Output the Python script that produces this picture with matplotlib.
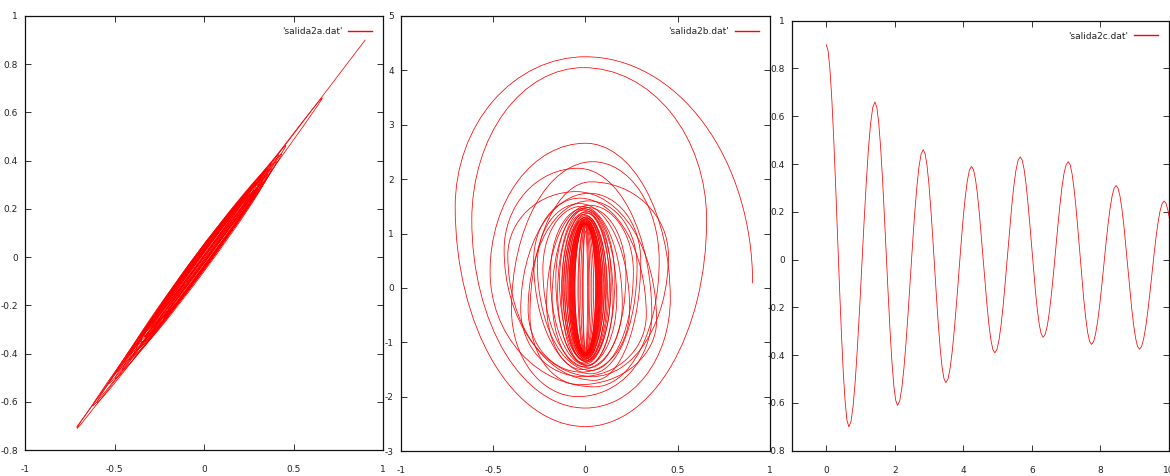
import matplotlib
matplotlib.use("Agg")
import matplotlib.pyplot as plt
from matplotlib.patches import Ellipse, Arc
from matplotlib.lines import Line2D

plt.rcParams['font.family'] = ['Liberation Sans Narrow', 'DejaVu Sans']

# ---------------- data ----------------
legend_labels = ["'salida2a.dat'", "'salida2b.dat'", "'salida2c.dat'"]

# Panel 1: start swing and thin loops along the diagonal
p1_start_x = [0.90, 0.10, -0.71]
p1_start_y = [0.90, 0.12, -0.703]
# (low tip, high tip, loop thickness, perpendicular offset)
p1_loops = [
    (-0.71, 0.66, 0.030, 0.000),
    (-0.62, 0.46, 0.036, 0.004),
    (-0.60, 0.43, 0.044, -0.004),
    (-0.53, 0.42, 0.040, 0.006),
    (-0.50, 0.40, 0.050, -0.006),
    (-0.48, 0.38, 0.046, 0.008),
    (-0.46, 0.37, 0.056, -0.008),
    (-0.44, 0.36, 0.050, 0.006),
    (-0.42, 0.35, 0.060, -0.006),
    (-0.41, 0.34, 0.055, 0.010),
    (-0.40, 0.34, 0.064, -0.010),
    (-0.39, 0.33, 0.040, 0.012),
    (-0.38, 0.32, 0.066, -0.004),
    (-0.37, 0.32, 0.030, -0.012),
    (-0.36, 0.31, 0.068, 0.004),
    (-0.35, 0.30, 0.020, 0.014),
    (-0.35, 0.30, 0.070, 0.000),
    (-0.34, 0.29, 0.025, -0.014),
    (-0.33, 0.29, 0.072, 0.002),
    (-0.33, 0.28, 0.015, 0.000),
    (-0.32, 0.28, 0.050, -0.010),
    (-0.31, 0.27, 0.045, 0.012),
    (-0.30, 0.27, 0.035, -0.016),
    (-0.30, 0.26, 0.030, 0.018),
    (-0.29, 0.26, 0.060, 0.000),
    (-0.28, 0.25, 0.010, 0.008),
    (-0.27, 0.24, 0.012, -0.008),
    (-0.25, 0.22, 0.008, 0.020),
    (-0.24, 0.21, 0.008, -0.020),
]

# Panel 2: trajectory extreme points, each loop = right, top, left, bottom
p2_loops = [
    # Rx,   Ry,    Tx,    Ty,   Lx,     Ly,    Bx,    By
    (0.906, 0.085, 0.00, 4.25, -0.705, 1.49, 0.00, -2.55),
    (0.657, 1.25, -0.01, 4.05, -0.615, 1.25, 0.00, -2.21),
    (0.46, -0.20, 0.00, 2.66, -0.516, 0.30, 0.05, -1.82),
    (0.40, 0.50, 0.04, 2.32, -0.40, -0.40, -0.04, -2.00),
    (0.36, -0.50, -0.04, 2.20, -0.44, 0.70, 0.04, -1.63),
    (0.45, 0.60, 0.03, 1.95, -0.30, -0.50, -0.03, -1.78),
    (0.386, -0.60, -0.05, 1.77, -0.42, 0.60, 0.05, -1.70),
    (0.30, 0.50, 0.02, 1.74, -0.35, -0.40, -0.02, -1.63),
    (0.33, -0.50, -0.03, 1.65, -0.28, 0.50, 0.03, -1.58),
    (0.28, 0.40, 0.02, 1.60, -0.31, -0.40, -0.02, -1.55),
    (0.24, -0.40, -0.03, 1.55, -0.26, 0.45, 0.03, -1.52),
    (0.26, 0.30, 0.02, 1.52, -0.21, -0.30, -0.02, -1.50),
    (0.20, -0.30, -0.02, 1.50, -0.23, 0.35, 0.02, -1.47),
    (0.22, 0.25, 0.01, 1.48, -0.18, -0.20, -0.01, -1.45),
    (0.17, -0.20, -0.01, 1.46, -0.19, 0.25, 0.01, -1.43),
    (0.16, 0.15, 0.00, 1.45, -0.15, -0.10, 0.01, -1.42),
    (0.15, -0.15, -0.01, 1.43, -0.16, 0.15, 0.00, -1.40),
    (0.14, 0.12, 0.01, 1.41, -0.13, -0.10, -0.01, -1.38),
    (0.135, -0.10, 0.00, 1.39, -0.14, 0.12, 0.01, -1.36),
    (0.13, 0.10, 0.01, 1.37, -0.12, -0.05, 0.00, -1.35),
    (0.12, -0.05, -0.01, 1.35, -0.125, 0.10, 0.00, -1.34),
    (0.115, 0.10, 0.00, 1.33, -0.11, -0.08, 0.01, -1.33),
    (0.11, -0.08, 0.01, 1.31, -0.115, 0.10, -0.01, -1.32),
    (0.105, 0.08, 0.00, 1.30, -0.10, -0.05, 0.00, -1.31),
    (0.10, -0.05, 0.00, 1.29, -0.105, 0.08, 0.01, -1.30),
    (0.095, 0.06, 0.01, 1.28, -0.09, -0.04, 0.00, -1.29),
    (0.09, -0.04, 0.00, 1.27, -0.095, 0.06, 0.00, -1.28),
    (0.088, 0.05, 0.00, 1.26, -0.085, 0.00, 0.00, -1.27),
    (0.085, 0.00, 0.00, 1.25, -0.088, 0.05, 0.00, -1.26),
    (0.082, 0.04, 0.00, 1.24, -0.080, -0.03, 0.00, -1.25),
    (0.080, -0.03, 0.00, 1.23, -0.082, 0.04, 0.00, -1.25),
    (0.077, 0.03, 0.00, 1.22, -0.075, 0.00, 0.00, -1.24),
    (0.075, 0.00, 0.00, 1.21, -0.077, 0.03, 0.00, -1.24),
    (0.072, 0.03, 0.00, 1.20, -0.070, -0.02, 0.00, -1.23),
    (0.070, -0.02, 0.00, 1.20, -0.072, 0.03, 0.00, -1.23),
    (0.067, 0.02, 0.00, 1.19, -0.065, 0.00, 0.00, -1.22),
    (0.065, 0.00, 0.00, 1.19, -0.067, 0.02, 0.00, -1.22),
    (0.062, 0.02, 0.00, 1.18, -0.060, -0.01, 0.00, -1.21),
    (0.060, -0.01, 0.00, 1.18, -0.062, 0.02, 0.00, -1.21),
    (0.057, 0.01, 0.00, 1.17, -0.057, 0.00, 0.00, -1.20),
    (0.055, 0.00, 0.00, 1.17, -0.057, 0.01, 0.00, -1.20),
    (0.045, 0.02, 0.00, 1.16, -0.040, -0.02, 0.00, -1.22),
    (0.035, -0.02, 0.00, 1.15, -0.035, 0.02, 0.00, -1.20),
    (0.025, 0.02, 0.00, 1.14, -0.025, -0.02, 0.00, -1.19),
    (0.018, 0.00, 0.00, 1.12, -0.015, 0.00, 0.00, -1.17),
    (0.012, 0.00, 0.00, 1.05, -0.012, 0.00, 0.00, -1.12),
]

# Panel 3: time series x(t)
p3_t = [0.000, 0.055, 0.110, 0.165, 0.220, 0.275, 0.330, 0.385, 0.440, 0.495, 0.550, 0.605,
        0.660, 0.723, 0.787, 0.850, 0.913, 0.977, 1.040, 1.103, 1.167, 1.230, 1.293, 1.357,
        1.420, 1.475, 1.530, 1.585, 1.640, 1.695, 1.750, 1.805, 1.860, 1.915, 1.970, 2.025,
        2.080, 2.143, 2.205, 2.268, 2.330, 2.393, 2.455, 2.518, 2.580, 2.643, 2.705, 2.768,
        2.830, 2.885, 2.940, 2.995, 3.050, 3.105, 3.160, 3.215, 3.270, 3.325, 3.380, 3.435,
        3.490, 3.553, 3.615, 3.678, 3.740, 3.803, 3.865, 3.928, 3.990, 4.053, 4.115, 4.178,
        4.240, 4.297, 4.353, 4.410, 4.467, 4.523, 4.580, 4.637, 4.693, 4.750, 4.807, 4.863,
        4.920, 4.982, 5.043, 5.105, 5.167, 5.228, 5.290, 5.352, 5.413, 5.475, 5.537, 5.598,
        5.660, 5.716, 5.772, 5.828, 5.883, 5.939, 5.995, 6.051, 6.107, 6.163, 6.218, 6.274,
        6.330, 6.391, 6.452, 6.513, 6.573, 6.634, 6.695, 6.756, 6.817, 6.878, 6.938, 6.999,
        7.060, 7.117, 7.173, 7.230, 7.287, 7.343, 7.400, 7.457, 7.513, 7.570, 7.627, 7.683,
        7.740, 7.800, 7.860, 7.920, 7.980, 8.040, 8.100, 8.160, 8.220, 8.280, 8.340, 8.400,
        8.460, 8.517, 8.573, 8.630, 8.687, 8.743, 8.800, 8.857, 8.913, 8.970, 9.027, 9.083,
        9.140, 9.200, 9.260, 9.320, 9.380, 9.440, 9.500, 9.560, 9.620, 9.680, 9.740, 9.800,
        9.860, 9.917, 9.973, 10.030]
p3_x = [0.900, 0.873, 0.793, 0.666, 0.500, 0.307, 0.100, -0.107, -0.300, -0.466, -0.593, -0.673,
        -0.700, -0.677, -0.609, -0.501, -0.360, -0.196, -0.020, 0.156, 0.320, 0.461, 0.569, 0.637,
        0.660, 0.638, 0.575, 0.474, 0.343, 0.189, 0.025, -0.139, -0.293, -0.424, -0.525, -0.588,
        -0.610, -0.592, -0.538, -0.453, -0.343, -0.214, -0.075, 0.064, 0.193, 0.303, 0.388, 0.442,
        0.460, 0.443, 0.395, 0.317, 0.216, 0.099, -0.028, -0.154, -0.271, -0.372, -0.450, -0.498,
        -0.515, -0.500, -0.454, -0.382, -0.289, -0.180, -0.063, 0.055, 0.164, 0.257, 0.329, 0.375,
        0.390, 0.377, 0.338, 0.276, 0.195, 0.101, 0.000, -0.101, -0.195, -0.276, -0.338, -0.377,
        -0.390, -0.376, -0.335, -0.270, -0.185, -0.086, 0.020, 0.126, 0.225, 0.310, 0.375, 0.416,
        0.430, 0.417, 0.379, 0.319, 0.241, 0.150, 0.053, -0.045, -0.136, -0.214, -0.274, -0.312,
        -0.325, -0.312, -0.276, -0.217, -0.141, -0.053, 0.043, 0.138, 0.226, 0.302, 0.361, 0.397,
        0.410, 0.397, 0.359, 0.298, 0.219, 0.127, 0.028, -0.072, -0.164, -0.243, -0.304, -0.342,
        -0.355, -0.344, -0.310, -0.258, -0.189, -0.109, -0.023, 0.064, 0.144, 0.213, 0.265, 0.299,
        0.310, 0.298, 0.264, 0.210, 0.139, 0.056, -0.033, -0.121, -0.204, -0.275, -0.329, -0.363,
        -0.375, -0.364, -0.333, -0.284, -0.220, -0.145, -0.065, 0.015, 0.090, 0.154, 0.203, 0.234,
        0.245, 0.235, 0.205, 0.159]

# ticks
p1_xticks = [-1, -0.5, 0, 0.5, 1]
p1_xlabels = ['-1', '-0.5', '0', '0.5', '1']
p1_yticks = [-0.8, -0.6, -0.4, -0.2, 0, 0.2, 0.4, 0.6, 0.8, 1]
p1_ylabels = ['-0.8', '-0.6', '-0.4', '-0.2', '0', '0.2', '0.4', '0.6', '0.8', '1']
p2_yticks = [-3, -2, -1, 0, 1, 2, 3, 4, 5]
p2_ylabels = ['-3', '-2', '-1', '0', '1', '2', '3', '4', '5']
p3_xticks = [0, 2, 4, 6, 8, 10]
p3_xlabels = ['0', '2', '4', '6', '8', '10']

# ---------------- style ----------------
RED = '#ff0000'
LW = 0.55
TXT = '#222222'

fig = plt.figure(figsize=(11.7, 4.76), dpi=100)
ax1 = fig.add_axes([0.02137, 0.0546, 0.3060, 0.9118])
ax2 = fig.add_axes([0.3425, 0.0525, 0.3156, 0.9139])
ax3 = fig.add_axes([0.6769, 0.0531, 0.3222, 0.9034])


def style(ax, xlim, ylim, xt, xl, yt, yl, label):
    ax.set_xlim(*xlim)
    ax.set_ylim(*ylim)
    ax.set_xticks(xt)
    ax.set_xticklabels(xl)
    ax.set_yticks(yt)
    ax.set_yticklabels(yl)
    ax.tick_params(direction='in', top=True, right=True, length=4, width=0.7,
                   colors='#333333', labelsize=6.5, labelcolor=TXT)
    ax.tick_params(axis='x', pad=11)
    ax.tick_params(axis='y', pad=5)
    for s in ax.spines.values():
        s.set_linewidth(0.9)
        s.set_color('#111111')
    h = Line2D([], [], color=RED, lw=1.0)
    ax.legend([h], [label], loc='upper right', frameon=False, markerfirst=False,
              fontsize=6.5, handlelength=2.7, handletextpad=0.6, borderaxespad=0.8,
              labelcolor=TXT)


# Panel 1
ax1.plot(p1_start_x, p1_start_y, color=RED, lw=LW)
SQ2 = 2 ** 0.5
for lo, hi, w, off in p1_loops:
    c = (lo + hi) / 2.0
    ax1.add_patch(Ellipse((c - off / SQ2, c + off / SQ2), (hi - lo) * SQ2, w, angle=45,
                          fill=False, ec=RED, lw=LW))
style(ax1, (-1, 1), (-0.8, 1), p1_xticks, p1_xlabels, p1_yticks, p1_ylabels,
      legend_labels[0])

# Panel 2: connect successive extreme points by quarter-ellipse arcs
pts = []
for (rx, ry, tx, ty, lx, ly, bx, by) in p2_loops:
    pts += [(rx, ry), (tx, ty), (lx, ly), (bx, by)]
for k in range(len(pts) - 1):
    (x0, y0), (x1, y1) = pts[k], pts[k + 1]
    q = k % 4
    if q == 0:
        cx, cy, t1, t2 = x1, y0, 0, 90
    elif q == 1:
        cx, cy, t1, t2 = x0, y1, 90, 180
    elif q == 2:
        cx, cy, t1, t2 = x1, y0, 180, 270
    else:
        cx, cy, t1, t2 = x0, y1, 270, 360
    ax2.add_patch(Arc((cx, cy), 2 * abs(x1 - x0), 2 * abs(y1 - y0),
                      theta1=t1, theta2=t2, ec=RED, lw=LW))
style(ax2, (-1, 1), (-3, 5), p1_xticks, p1_xlabels, p2_yticks, p2_ylabels,
      legend_labels[1])

# Panel 3
ax3.plot(p3_t, p3_x, color=RED, lw=LW)
style(ax3, (-1, 10), (-0.8, 1), p3_xticks, p3_xlabels, p1_yticks, p1_ylabels,
      legend_labels[2])

fig.savefig('out.png', dpi=100)
